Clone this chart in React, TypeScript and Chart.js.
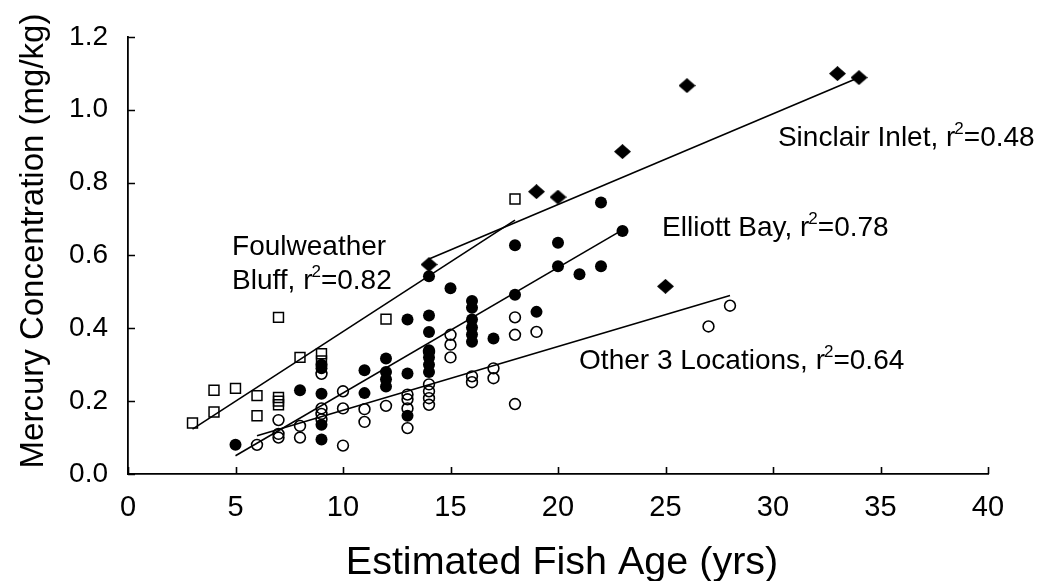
import React, { useEffect, useRef } from "react";
import { Chart, registerables } from "chart.js";

Chart.register(...registerables);

// ---- Data ----
const xTickValues = [0, 5, 10, 15, 20, 25, 30, 35, 40];
const yTickValues = [0, 0.2, 0.4, 0.6, 0.8, 1.0, 1.2];

// Foulweather Bluff (open squares)
const foulAge = [3, 4, 4, 5, 6, 6, 7, 7, 7, 7, 8, 9, 9, 12, 18];
const foulHg = [0.14, 0.23, 0.17, 0.235, 0.215, 0.16, 0.43, 0.21, 0.2, 0.19, 0.32, 0.33, 0.31, 0.425, 0.755];

// Elliott Bay (filled circles)
const elliottAge = [5, 8, 9, 9, 9, 9, 9, 11, 11, 12, 12, 12, 12, 13, 13, 13, 14, 14, 14, 14, 14, 14, 14, 15, 16, 16, 16, 16, 16, 16, 17, 18, 18, 19, 20, 20, 21, 22, 22, 23];
const elliottHg = [0.08, 0.23, 0.3, 0.29, 0.22, 0.135, 0.095, 0.285, 0.222, 0.317, 0.28, 0.26, 0.24, 0.424, 0.276, 0.16, 0.543, 0.435, 0.39, 0.34, 0.32, 0.3, 0.28, 0.51, 0.475, 0.456, 0.424, 0.402, 0.383, 0.363, 0.372, 0.628, 0.492, 0.445, 0.635, 0.57, 0.548, 0.745, 0.57, 0.667];

// Sinclair Inlet (filled diamonds)
const sinclairAge = [14, 19, 20, 23, 25, 26, 33, 34];
const sinclairHg = [0.575, 0.775, 0.76, 0.885, 0.515, 1.066, 1.099, 1.088];

// Other 3 Locations (open circles)
const otherAge = [6, 7, 7, 7, 8, 8, 9, 9, 9, 9, 10, 10, 10, 11, 11, 12, 13, 13, 13, 13, 14, 14, 14, 14, 14, 15, 15, 15, 16, 16, 17, 17, 18, 18, 18, 19, 27, 28];
const otherHg = [0.08, 0.148, 0.11, 0.1, 0.132, 0.1, 0.275, 0.18, 0.165, 0.15, 0.227, 0.18, 0.078, 0.178, 0.143, 0.187, 0.218, 0.205, 0.18, 0.126, 0.335, 0.246, 0.227, 0.208, 0.19, 0.382, 0.355, 0.32, 0.268, 0.252, 0.29, 0.263, 0.43, 0.382, 0.192, 0.39, 0.405, 0.462];

// Regression line end points
const foulFitAge = [3, 18];
const foulFitHg = [0.123, 0.697];
const elliottFitAge = [5, 23];
const elliottFitHg = [0.05, 0.67];
const sinclairFitAge = [14, 34];
const sinclairFitHg = [0.59, 1.088];
const otherFitAge = [6, 28];
const otherFitHg = [0.105, 0.49];

// Annotation texts
const noteTexts = [
  { pre: "Foulweather", sup: "", post: "" },
  { pre: "Bluff, r", sup: "2", post: "=0.82" },
  { pre: "Sinclair Inlet, r", sup: "2", post: "=0.48" },
  { pre: "Elliott Bay, r", sup: "2", post: "=0.78" },
  { pre: "Other 3 Locations, r", sup: "2", post: "=0.64" },
];
// anchors (data coordinates, left / baseline)
const noteAnchorX = [4.84, 4.84, 30.23, 24.84, 20.98];
const noteAnchorY = [0.601, 0.509, 0.901, 0.653, 0.288];

const xTitle = "Estimated Fish Age (yrs)";
const yTitle = "Mercury Concentration (mg/kg)";

const FONT = "'Liberation Sans', Arial, Helvetica, sans-serif";

const zip = (xs: number[], ys: number[]) => xs.map((x, i) => ({ x, y: ys[i] }));

function makeDiamond(w: number, h: number) {
  const c = document.createElement("canvas");
  c.width = w;
  c.height = h;
  const g = c.getContext("2d")!;
  g.fillStyle = "#000";
  g.beginPath();
  g.moveTo(w / 2, 0);
  g.lineTo(w, h / 2);
  g.lineTo(w / 2, h);
  g.lineTo(0, h / 2);
  g.closePath();
  g.fill();
  return c;
}

const decorPlugin = {
  id: "decor",
  afterDraw(chart: any) {
    const { ctx, chartArea, scales } = chart;
    const xs = scales.x;
    const ys = scales.y;
    ctx.save();
    // inward tick marks
    ctx.strokeStyle = "#000";
    ctx.lineWidth = 1.6;
    ctx.beginPath();
    xTickValues.forEach((v) => {
      const px = Math.round(xs.getPixelForValue(v)) + 0.5;
      ctx.moveTo(px, chartArea.bottom);
      ctx.lineTo(px, chartArea.bottom - 7);
    });
    yTickValues.forEach((v) => {
      const py = Math.round(ys.getPixelForValue(v)) + 0.5;
      ctx.moveTo(chartArea.left, py);
      ctx.lineTo(chartArea.left + 7, py);
    });
    ctx.stroke();

    // annotations
    ctx.fillStyle = "#000";
    ctx.textBaseline = "alphabetic";
    ctx.textAlign = "left";
    const size = 28;
    noteTexts.forEach((n, i) => {
      let x = xs.getPixelForValue(noteAnchorX[i]);
      const y = ys.getPixelForValue(noteAnchorY[i]);
      ctx.font = `${size}px ${FONT}`;
      ctx.fillText(n.pre, x, y);
      x += ctx.measureText(n.pre).width;
      if (n.sup) {
        ctx.font = `${Math.round(size * 0.62)}px ${FONT}`;
        ctx.fillText(n.sup, x - 1, y - size * 0.42);
        x += ctx.measureText(n.sup).width - 1;
        ctx.font = `${size}px ${FONT}`;
        ctx.fillText(n.post, x, y);
      }
    });

    // axis titles
    ctx.font = `39.5px ${FONT}`;
    ctx.textAlign = "center";
    ctx.fillText(xTitle, (chartArea.left + chartArea.right) / 2 + 4, 574);
    ctx.save();
    ctx.translate(43, 241);
    ctx.rotate(-Math.PI / 2);
    ctx.font = `33px ${FONT}`;
    ctx.fillText(yTitle, 0, 0);
    ctx.restore();
    ctx.restore();
  },
};

export default function App() {
  const ref = useRef<HTMLCanvasElement | null>(null);

  useEffect(() => {
    if (!ref.current) return;
    const diamond = makeDiamond(17, 15);
    const lineDs = (xs: number[], ys: number[]) => ({
      type: "line" as const,
      data: zip(xs, ys),
      borderColor: "#000",
      borderWidth: 1.6,
      pointRadius: 0,
      showLine: true,
      fill: false,
      order: 0,
    });
    const chart = new Chart(ref.current, {
      type: "scatter",
      data: {
        datasets: [
          lineDs(foulFitAge, foulFitHg),
          lineDs(elliottFitAge, elliottFitHg),
          lineDs(sinclairFitAge, sinclairFitHg),
          lineDs(otherFitAge, otherFitHg),
          {
            label: "Foulweather Bluff",
            data: zip(foulAge, foulHg),
            pointStyle: "rect",
            pointRadius: 7,
            backgroundColor: "rgba(0,0,0,0)",
            borderColor: "#000",
            borderWidth: 1.5,
            order: 1,
          },
          {
            label: "Other 3 Locations",
            data: zip(otherAge, otherHg),
            pointStyle: "circle",
            pointRadius: 5.4,
            backgroundColor: "rgba(0,0,0,0)",
            borderColor: "#000",
            borderWidth: 1.6,
            order: 1,
          },
          {
            label: "Elliott Bay",
            data: zip(elliottAge, elliottHg),
            pointStyle: "circle",
            pointRadius: 6,
            backgroundColor: "#000",
            borderColor: "#000",
            borderWidth: 0,
            order: 2,
          },
          {
            label: "Sinclair Inlet",
            data: zip(sinclairAge, sinclairHg),
            pointStyle: diamond,
            pointRadius: 8,
            backgroundColor: "#000",
            borderColor: "#000",
            order: 2,
          },
        ] as any,
      },
      plugins: [decorPlugin],
      options: {
        animation: false,
        responsive: true,
        maintainAspectRatio: false,
        events: [],
        layout: { padding: { top: 30, right: 56, left: 0, bottom: 0 } },
        plugins: { legend: { display: false }, tooltip: { enabled: false } },
        scales: {
          x: {
            type: "linear",
            min: 0,
            max: 40,
            afterBuildTicks: (s: any) => {
              s.ticks = xTickValues.map((v) => ({ value: v }));
            },
            afterFit: (s: any) => {
              s.height = 107;
            },
            grid: { display: false, drawTicks: false },
            border: { display: true, color: "#000", width: 1.8 },
            ticks: {
              color: "#000",
              padding: 17,
              font: { family: FONT, size: 29 },
              callback: (v: any) => String(v),
            },
          },
          y: {
            type: "linear",
            min: 0,
            max: 1.2,
            afterBuildTicks: (s: any) => {
              s.ticks = yTickValues.map((v) => ({ value: v }));
            },
            afterFit: (s: any) => {
              s.width = 128;
            },
            grid: { display: false, drawTicks: false },
            border: { display: true, color: "#000", width: 1.8 },
            ticks: {
              color: "#000",
              padding: 20,
              font: { family: FONT, size: 28 },
              callback: (v: any) => Number(v).toFixed(1),
            },
          },
        },
      } as any,
    });
    return () => chart.destroy();
  }, []);

  return (
    <div style={{ position: "absolute", left: 0, top: 0, width: 1044, height: 581, background: "#fff" }}>
      <canvas ref={ref} />
    </div>
  );
}
